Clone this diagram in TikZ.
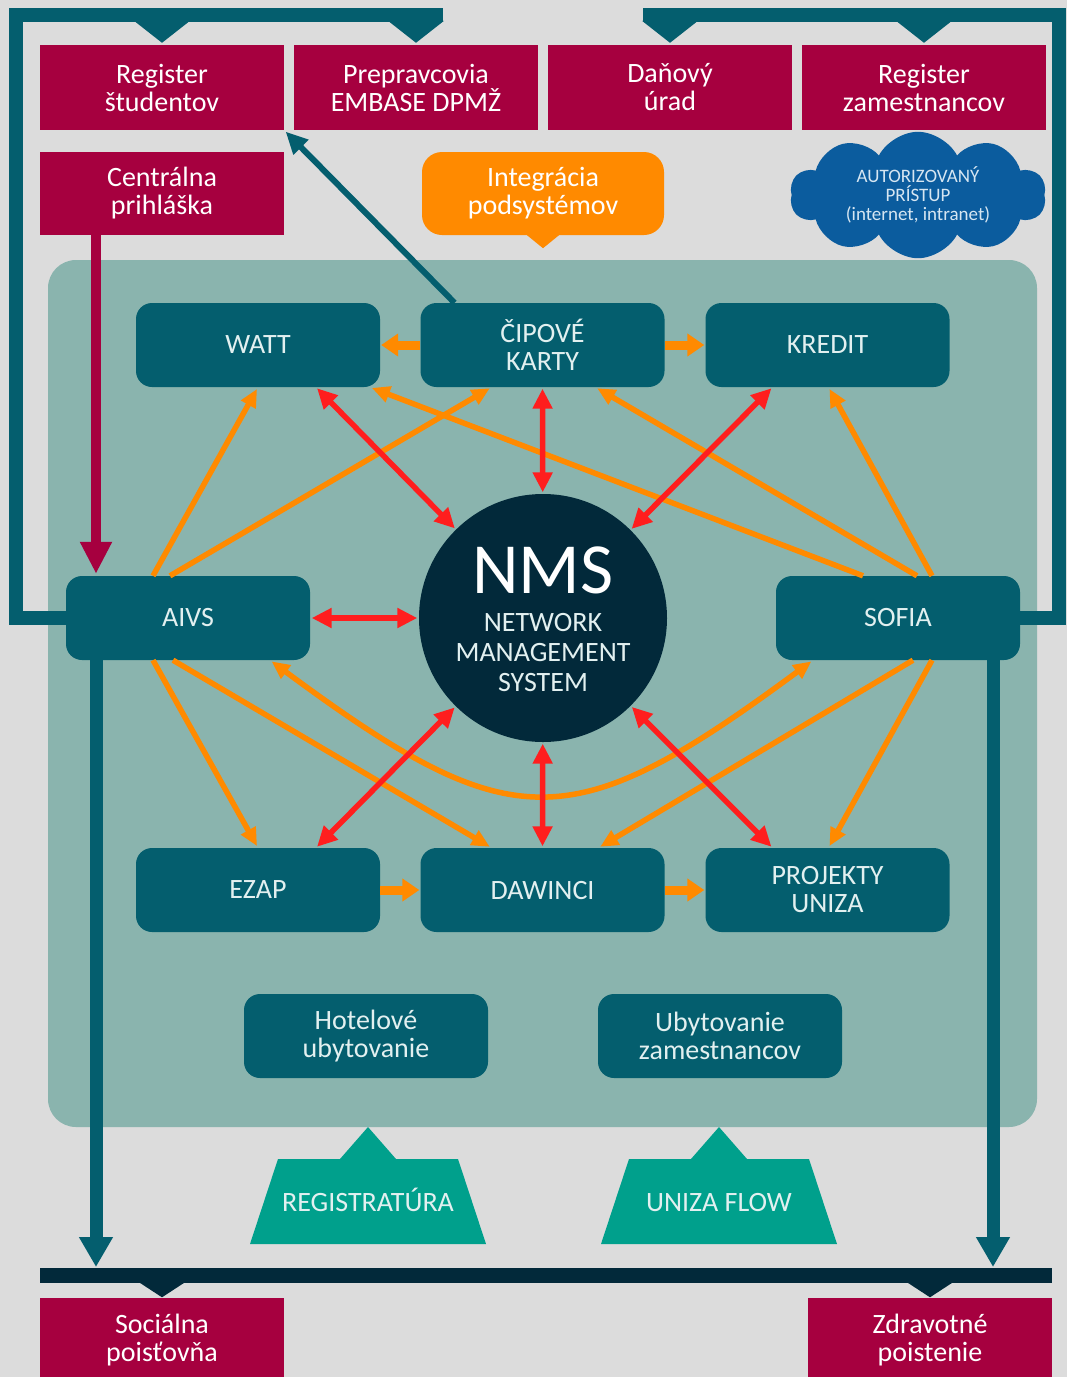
\documentclass[tikz,border=0pt]{standalone}
\usepackage{fontspec}
\setmainfont{Carlito}
\usetikzlibrary{arrows.meta,shapes.symbols,calc}
\definecolor{bgc}{HTML}{DCDCDC}
\definecolor{panelc}{HTML}{8AB4AE}
\definecolor{tealc}{HTML}{045E6E}
\definecolor{crimc}{HTML}{A6003F}
\definecolor{orc}{HTML}{FF8A00}
\definecolor{redc}{HTML}{FF1E1E}
\definecolor{navyc}{HTML}{02293A}
\definecolor{trapc}{HTML}{00A08C}
\definecolor{cloudc}{HTML}{0B5C9E}
\definecolor{boxtext}{HTML}{E2F0F0}
\definecolor{cloudtext}{HTML}{D6E6F2}
\begin{document}
\begin{tikzpicture}[x=1pt,y=-1pt,
  boxfont/.style={font=\fontsize{28}{28}\selectfont},
  redbox/.style={boxfont, fill=crimc, text=white, minimum width=244pt, minimum height=85pt, inner sep=0pt, align=center},
  tealbox/.style={boxfont, fill=tealc, text=boxtext, rounded corners=16pt, minimum width=244pt, minimum height=84pt, inner sep=0pt, align=center},
  tealline/.style={draw=tealc, line width=14pt, line join=miter},
  tealarrow/.style={draw=tealc, line width=13pt, -{Triangle[length=30pt,width=32pt]}},
  crimarrow/.style={draw=crimc, line width=10pt, -{Triangle[length=32pt,width=30pt]}, shorten >=2pt},
  redarrow/.style={draw=redc, line width=5.5pt, {Triangle[length=20pt,width=19pt]}-{Triangle[length=20pt,width=19pt]}, shorten <=1.5pt, shorten >=1.5pt},
  orarrow/.style={draw=orc, line width=5.5pt, -{Triangle[length=18pt,width=16pt]}, shorten >=2pt},
  blockarrow/.style={draw=orc, line width=9pt, -{Triangle[length=17pt,width=22pt]}, shorten >=1pt},
  trapfill/.style={fill=trapc},
  traptext/.style={boxfont, text=boxtext, inner sep=0pt, anchor=base},
]
\useasboundingbox (0,0) rectangle (1067,1377);
\clip (0,0) rectangle (1067,1377);
\fill[bgc] (0,0) rectangle (1067,1377);
\fill[panelc, rounded corners=28pt] (48,260) rectangle (1037,1127);

% trapezoids
\fill[trapfill] (250,1244) -- (278,1159) -- (340,1159) -- (368,1127) -- (396,1159) -- (458,1159) -- (486,1244) -- cycle;
\fill[trapfill] (601,1244) -- (629,1159) -- (691,1159) -- (719,1127) -- (747,1159) -- (809,1159) -- (837,1244) -- cycle;
\node[traptext] (regis) at (368,1211) {REGISTRATÚRA};
\node[traptext] (flow) at (719,1211) {UNIZA FLOW};

% red boxes
\node[redbox] (regstud) at (162,87.5) {Register\\študentov};
\node[redbox] (prep) at (416,87.5) {Prepravcovia\\EMBASE DPMŽ};
\node[redbox] (danov) at (670,87.5) {Daňový\\úrad};
\node[redbox] (regzam) at (924,87.5) {Register\\zamestnancov};
\node[redbox, minimum height=83pt] (central) at (162,193.5) {Centrálna\\prihláška};
\node[redbox] (socp) at (162,1340) {Sociálna\\poisťovňa};
\node[redbox] (zdrav) at (930,1340) {Zdravotné\\poistenie};

% orange callout
\node[boxfont, fill=orc, text=white, rounded corners=20pt, minimum width=242pt, minimum height=83pt, inner sep=0pt, align=center] (integ) at (543,193.5) {Integrácia\\podsystémov};
\fill[orc] ([xshift=-16pt]integ.south) -- ([xshift=16pt]integ.south) -- ($(integ.south)+(0,13)$) -- cycle;

% cloud
\node[cloud, cloud puffs=10, cloud puff arc=125, aspect=2.2, fill=cloudc, text=cloudtext, minimum width=256pt, minimum height=116pt, inner sep=0pt, align=center, font=\fontsize{19}{19}\selectfont] (cloud) at (918,195) {AUTORIZOVANÝ\\PRÍSTUP\\(internet, intranet)};

% teal boxes
\node[tealbox] (watt) at (258,345) {WATT};
\node[tealbox] (cip) at (542.5,345) {ČIPOVÉ\\KARTY};
\node[tealbox] (kredit) at (827.5,345) {KREDIT};
\node[tealbox] (aivs) at (188,618) {AIVS};
\node[tealbox] (sofia) at (898,618) {SOFIA};
\node[tealbox] (ezap) at (258,890) {EZAP};
\node[tealbox] (daw) at (542.5,890) {DAWINCI};
\node[tealbox] (proj) at (827.5,890) {PROJEKTY\\UNIZA};
\node[tealbox] (hotel) at (366,1036) {Hotelové\\ubytovanie};
\node[tealbox] (ubyt) at (720,1036) {Ubytovanie\\zamestnancov};

% NMS
\node[circle, fill=navyc, minimum size=248pt, inner sep=0pt] (nms) at (543,618) {};
\node[font=\fontsize{72}{72}\selectfont, text=white, inner sep=0pt] (nmst) at (543,570) {NMS};
\node[font=\fontsize{28}{30}\selectfont, text=boxtext, align=center, inner sep=0pt] (nmss) at (543,652) {NETWORK\\MANAGEMENT\\SYSTEM};

% framing lines
\coordinate (tlA) at (443,15);
\coordinate (tlB) at (16,15);
\coordinate (tlC) at (16,618);
\coordinate (trA) at (643,15);
\coordinate (trB) at (1059,15);
\coordinate (trC) at (1059,618);
\draw[tealline] (tlA) -- (tlB) -- (tlC) -- (aivs.west);
\draw[tealline] (trA) -- (trB) -- (trC) -- (sofia.east);
\foreach \n in {regstud,prep,danov,regzam}{
  \fill[tealc] ($(\n.north)+(-28,-24)$) -- ($(\n.north)+(28,-24)$) -- ($(\n.north)+(0,-2)$) -- cycle;
}

% bottom bus
\coordinate (busW) at (40,1275);
\coordinate (busE) at (1052,1275);
\draw[draw=navyc, line width=15pt] (busW) -- (busE);
\foreach \n in {socp,zdrav}{
  \fill[navyc] ($(\n.north)+(-26,-17)$) -- ($(\n.north)+(26,-17)$) -- (\n.north) -- cycle;
}
\coordinate (busL) at (96,1267);
\coordinate (busR) at (993,1267);
\draw[tealarrow] (aivs.south -| busL) -- (busL);
\draw[tealarrow] (sofia.south -| busR) -- (busR);

% crimson arrow
\draw[crimarrow] (central.south -| busL) -- (aivs.north -| busL);

% teal diagonal arrow
\draw[draw=tealc, line width=6pt, -{Triangle[length=22pt,width=20pt]}, shorten >=2pt] ([xshift=-88pt]cip.north) -- (regstud.south east);

% block arrows
\draw[blockarrow] (cip.west) -- (watt.east);
\draw[blockarrow] (cip.east) -- (kredit.west);
\draw[blockarrow] (ezap.east) -- (daw.west);
\draw[blockarrow] (daw.east) -- (proj.west);

% orange arrows
\draw[orarrow] ([xshift=-35pt]aivs.north) -- (watt.south);
\draw[orarrow] ([xshift=-18pt]aivs.north) -- ([xshift=-51pt]cip.south);
\draw[orarrow] ([xshift=-35pt]sofia.north) -- ([xshift=112pt]watt.south);
\draw[orarrow] ([xshift=19pt]sofia.north) -- ([xshift=53pt]cip.south);
\draw[orarrow] ([xshift=34pt]sofia.north) -- ([xshift=1pt]kredit.south);
\draw[orarrow] ([xshift=-35pt]aivs.south) -- (ezap.north);
\draw[orarrow] ([xshift=-15pt]aivs.south) -- ([xshift=-51pt]daw.north);
\draw[orarrow] ([xshift=15pt]sofia.south) -- ([xshift=56pt]daw.north);
\draw[orarrow] ([xshift=34pt]sofia.south) -- ([xshift=1pt]proj.north);
\draw[orarrow, {Triangle[length=18pt,width=16pt]}-{Triangle[length=18pt,width=16pt]}, shorten <=2pt] ([xshift=82pt]aivs.south) .. controls (512,839) and (571,839) .. ([xshift=-85pt]sofia.south);

% red arrows
\draw[redarrow] ([xshift=58pt]watt.south) -- (nms);
\draw[redarrow] (cip.south) -- (nms);
\draw[redarrow] ([xshift=-55pt]kredit.south) -- (nms);
\draw[redarrow] (aivs.east) -- (nms);
\draw[redarrow] ([xshift=58pt]ezap.north) -- (nms);
\draw[redarrow] (daw.north) -- (nms);
\draw[redarrow] ([xshift=-55pt]proj.north) -- (nms);
\end{tikzpicture}
\end{document}
